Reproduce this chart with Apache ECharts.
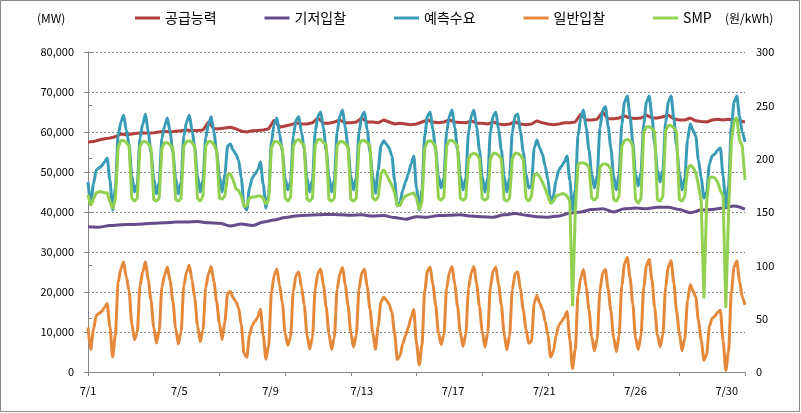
<!DOCTYPE html>
<html><head><meta charset="utf-8">
<script src="https://cdn.jsdelivr.net/npm/echarts@6/dist/echarts.min.js"></script>
<style>html,body{margin:0;padding:0;background:#fff}#c{width:801px;height:413px}</style>
</head><body><div id="c"></div>
<script>
// ---- data ----
const seriesNames = ['공급능력', '기저입찰', '예측수요', '일반입찰', 'SMP'];
const dateLabels = ['7/1', '7/5', '7/9', '7/13', '7/17', '7/21', '7/26', '7/30'];
const labelEveryHours = 100;
const tickEveryHours = 72;
const totalHours = 720;

// 공급능력 (MW), one value every 6 hours
const supplyStepHours = 6;
const supply = [
57500,57600,58000,58300, 58500,58800,59500,59300, 59500,59700,59800,59700, 59800,60000,60200,60000,
60200,60300,60500,60300, 60400,60500,62500,60800, 60800,61000,61200,60800, 60200,60000,60300,60400,
60500,60800,63000,61200, 61500,61800,62300,62000, 62000,62300,63500,62200, 62200,62500,63000,62300,
62300,62500,63500,62500, 62500,62300,63000,62500, 62000,62200,62000,61800, 62000,62500,63000,62500,
62300,62500,63000,62500, 62400,62300,62800,62200, 62200,62000,62500,62000, 61800,62000,62500,62000,
61800,62000,62800,62300, 62000,61800,62000,62300, 62300,62500,64500,63000, 63000,63200,65000,63300,
63300,63500,64000,63500, 63400,63500,64200,63500, 63500,63800,64200,63300, 63000,63000,63500,62800,
62600,62500,63000,63200, 63000,63200,63000,62800, 62500
];

// 기저입찰 (MW), one value every 12 hours
const baseStepHours = 12;
const baseBid = [
36300,36200,36600,36800,36900,37000,37200,37300,37500,37500,37600,37300,37200,36500,37000,36600,
37500,38000,38600,39000,39200,39300,39400,39300,39200,39300,39000,39100,38600,38200,38800,38700,
39100,39200,39300,39000,38800,38700,39300,39600,39200,38800,38700,39000,39700,40000,40600,40800,
40000,40800,41000,40800,41200,41200,40600,39800,40500,40600,41000,41500,40700
];

// 예측수요, 일반입찰 (MW) and SMP (원/kWh), one value every 3 hours
const fastStepHours = 3;
const demand = [
47500,42000,47000,50500,51000,51500,52500,53500,
48000,40500,46000,59000,62500,64200,60500,57000,
49000,45000,47000,58500,62000,64500,60000,55000,
48500,44500,47500,58500,61500,63500,60000,55000,
48500,44500,47500,59000,62500,64200,60500,56000,
49000,45000,48000,58500,62000,63800,60000,55000,
49000,45000,49500,56500,57000,55500,54500,53000,
48500,41500,40500,46000,48500,49500,50500,52500,
47000,41000,44500,57500,62000,63500,59500,55000,
48500,45500,47500,59000,63000,63800,60000,55500,
48500,45000,48000,60000,64000,65000,61000,55500,
49000,45000,48000,60000,64000,65500,61000,56000,
49000,45500,48500,60000,64000,65000,60500,55000,
49000,44700,50500,56500,57800,57000,56000,54000,
48000,41500,42500,45500,47500,49500,52000,54000,
46000,40500,45500,59000,64000,65000,60500,55500,
49000,46000,48500,60000,64000,65500,61000,55500,
49000,45500,48500,60000,64000,65500,61000,55500,
49000,45000,48500,60000,64000,65000,60500,55500,
49000,45000,48500,60000,64000,64500,60000,55000,
49500,46000,46500,56000,58000,56000,54500,51500,
48000,42600,44000,48000,50500,51500,52500,54000,
48000,40500,45500,59000,63500,65500,61000,55500,
49500,46000,49000,61000,65500,66300,61500,56000,
49000,45500,49500,62000,67500,69000,64000,57500,
49500,46500,50000,62000,67500,69000,64000,57000,
50500,47500,50500,62500,67500,69000,63500,56500,
50000,45500,48500,58000,62000,60500,59000,53000,
48500,43500,45000,52000,54000,54500,55500,56000,
49000,41300,46500,61000,67500,69000,64000,60000,
57500
];
const generalBid = [
11100,5600,10600,14100,14600,15100,16100,17100,
11300,3800,9300,22300,25800,27500,23800,20300,
12050,8050,10050,21550,25050,27550,23050,18050,
11250,7250,10250,21250,24250,26250,22750,17750,
11000,7000,10000,21500,25000,26700,23000,18500,
11550,7550,10550,21050,24550,26350,22550,17550,
12100,8100,12600,19600,20100,18600,17600,16100,
11700,4700,3700,9200,11700,12700,13700,15700,
9200,3200,6700,19700,24200,25700,21700,17200,
9700,6700,8700,20200,24200,25000,21200,16700,
9250,5750,8750,20750,24750,25750,21750,16250,
9650,5650,8650,20650,24650,26150,21650,16650,
9750,6250,9250,20750,24750,25750,21250,15750,
9950,5650,11450,17450,18750,17950,16950,14950,
9600,3100,4100,7100,9100,11100,13600,15600,
7250,1750,6750,20250,25250,26250,21750,16750,
9850,6850,9350,20850,24850,26350,21850,16350,
9850,6350,9350,20850,24850,26350,21850,16350,
10250,6250,9750,21250,25250,26250,21750,16750,
9550,5550,9050,20550,24550,25050,20550,15550,
10700,7200,7700,17200,19200,17200,15700,12700,
9150,3750,5150,9150,11650,12650,13650,15150,
8150,900,5650,19150,23650,25650,21150,15650,
8800,5300,8300,20300,24800,25600,20800,15300,
8600,5100,9100,21600,27100,28600,23600,17100,
8600,5600,9100,21100,26600,28100,23100,16100,
9300,6300,9300,21300,26300,27800,22300,15300,
9800,5300,8300,17800,21800,20300,18800,12800,
7950,2950,4450,11450,13450,13950,14950,15450,
7750,400,5250,19750,26250,27750,22750,18750,
16800
];
const smp = [
166,156,162,168,169,169,168,168,
160,153,162,210,217,217,215,212,
163,160,163,212,216,216,214,210,
162,160,163,210,215,215,213,210,
162,160,163,212,216,217,215,211,
163,160,165,212,216,216,213,208,
163,162,165,185,186,180,172,170,
165,155,156,163,164,164,165,165,
163,157,162,210,216,216,214,210,
163,160,164,212,217,218,215,212,
162,160,163,213,218,218,215,213,
162,160,163,212,216,216,214,211,
162,160,163,213,217,217,215,212,
163,161,164,185,190,185,180,175,
168,156,156,162,165,166,167,168,
163,152,160,210,216,217,215,211,
163,161,164,212,217,217,215,212,
163,161,163,200,204,205,204,200,
163,161,163,200,205,205,203,200,
162,160,163,200,205,205,203,199,
163,160,165,185,186,183,178,172,
165,158,160,165,166,167,167,165,
160,62,150,195,196,196,195,192,
163,161,164,192,195,195,194,190,
162,160,165,212,217,218,217,212,
162,158,163,225,230,230,228,225,
162,160,165,226,231,231,229,225,
162,160,165,190,194,192,187,175,
160,69,160,182,183,182,178,170,
165,60,150,215,235,239,217,212,
180
];

const colors = ['#B0413E', '#664C8A', '#3A9BB7', '#E4893A', '#92D050'];

function toPairs(values, step) { return values.map((v, i) => [i * step, v]); }

const axisGray = '#868686';
const font = '"Noto Sans CJK KR", "Noto Sans", sans-serif';

const chart = echarts.init(document.getElementById('c'), null, {renderer: 'canvas'});
const lineSeries = (name, data, yIdx, idx, smooth) => ({
  name, type: 'line', xAxisIndex: 0, yAxisIndex: yIdx, data,
  showSymbol: false, symbol: 'none', smooth: smooth, smoothMonotone: 'x',
  lineStyle: {width: 3, color: colors[idx]}, itemStyle: {color: colors[idx]},
  emphasis: {disabled: true}, z: 2 + idx
});

chart.setOption({
  animation: false,
  textStyle: {fontFamily: font},
  grid: {left: 88, right: 56, top: 52, bottom: 41},
  legend: {
    data: seriesNames, left: 135, top: 11, padding: 0, icon: 'rect', itemWidth: 25, itemHeight: 3,
    itemGap: 48, textStyle: {fontSize: 14, color: '#000', fontFamily: font}
  },
  xAxis: [
    {type: 'value', min: 0, max: totalHours, interval: labelEveryHours,
     axisLine: {show: true, lineStyle: {color: axisGray}}, axisTick: {show: false}, splitLine: {show: false},
     axisLabel: {fontSize: 11, color: '#000', margin: 13, showMaxLabel: false,
       formatter: v => (v % labelEveryHours === 0 && dateLabels[v / labelEveryHours]) || ''}},
    {type: 'value', min: 0, max: totalHours, interval: tickEveryHours, position: 'bottom',
     axisLine: {show: false}, axisTick: {show: true, length: 4, lineStyle: {color: axisGray}},
     axisLabel: {show: false}, splitLine: {show: false}}
  ],
  yAxis: [
    {type: 'value', min: 0, max: 80000, interval: 10000, position: 'left',
     axisLine: {show: true, lineStyle: {color: axisGray}}, axisTick: {show: true, length: 4, lineStyle: {color: axisGray}},
     axisLabel: {fontSize: 11, color: '#000', margin: 14, formatter: v => v.toLocaleString('en-US')},
     splitLine: {show: true, lineStyle: {type: [2, 2], color: axisGray, width: 1}}},
    {type: 'value', min: 0, max: 300, interval: 50, position: 'right',
     axisLine: {show: true, lineStyle: {color: axisGray}}, axisTick: {show: true, length: 4, lineStyle: {color: axisGray}},
     axisLabel: {fontSize: 11, color: '#000', margin: 11}, splitLine: {show: false}}
  ],
  graphic: [
    {type: 'rect', silent: true, shape: {x: 0.5, y: 0.5, width: 799, height: 411},
     style: {fill: 'none', stroke: axisGray, lineWidth: 1}},
    {type: 'text', left: 37, top: 12, style: {text: '(MW)', font: '12px ' + font, fill: '#000'}},
    {type: 'text', left: 725, top: 12, style: {text: '(원/kWh)', font: '12px ' + font, fill: '#000'}}
  ],
  series: [
    lineSeries(seriesNames[0], toPairs(supply, supplyStepHours), 0, 0, false),
    lineSeries(seriesNames[1], toPairs(baseBid, baseStepHours), 0, 1, 0.3),
    lineSeries(seriesNames[2], toPairs(demand, fastStepHours), 0, 2, 0.25),
    lineSeries(seriesNames[3], toPairs(generalBid, fastStepHours), 0, 3, 0.25),
    lineSeries(seriesNames[4], toPairs(smp, fastStepHours), 1, 4, false)
  ]
});
</script></body></html>
